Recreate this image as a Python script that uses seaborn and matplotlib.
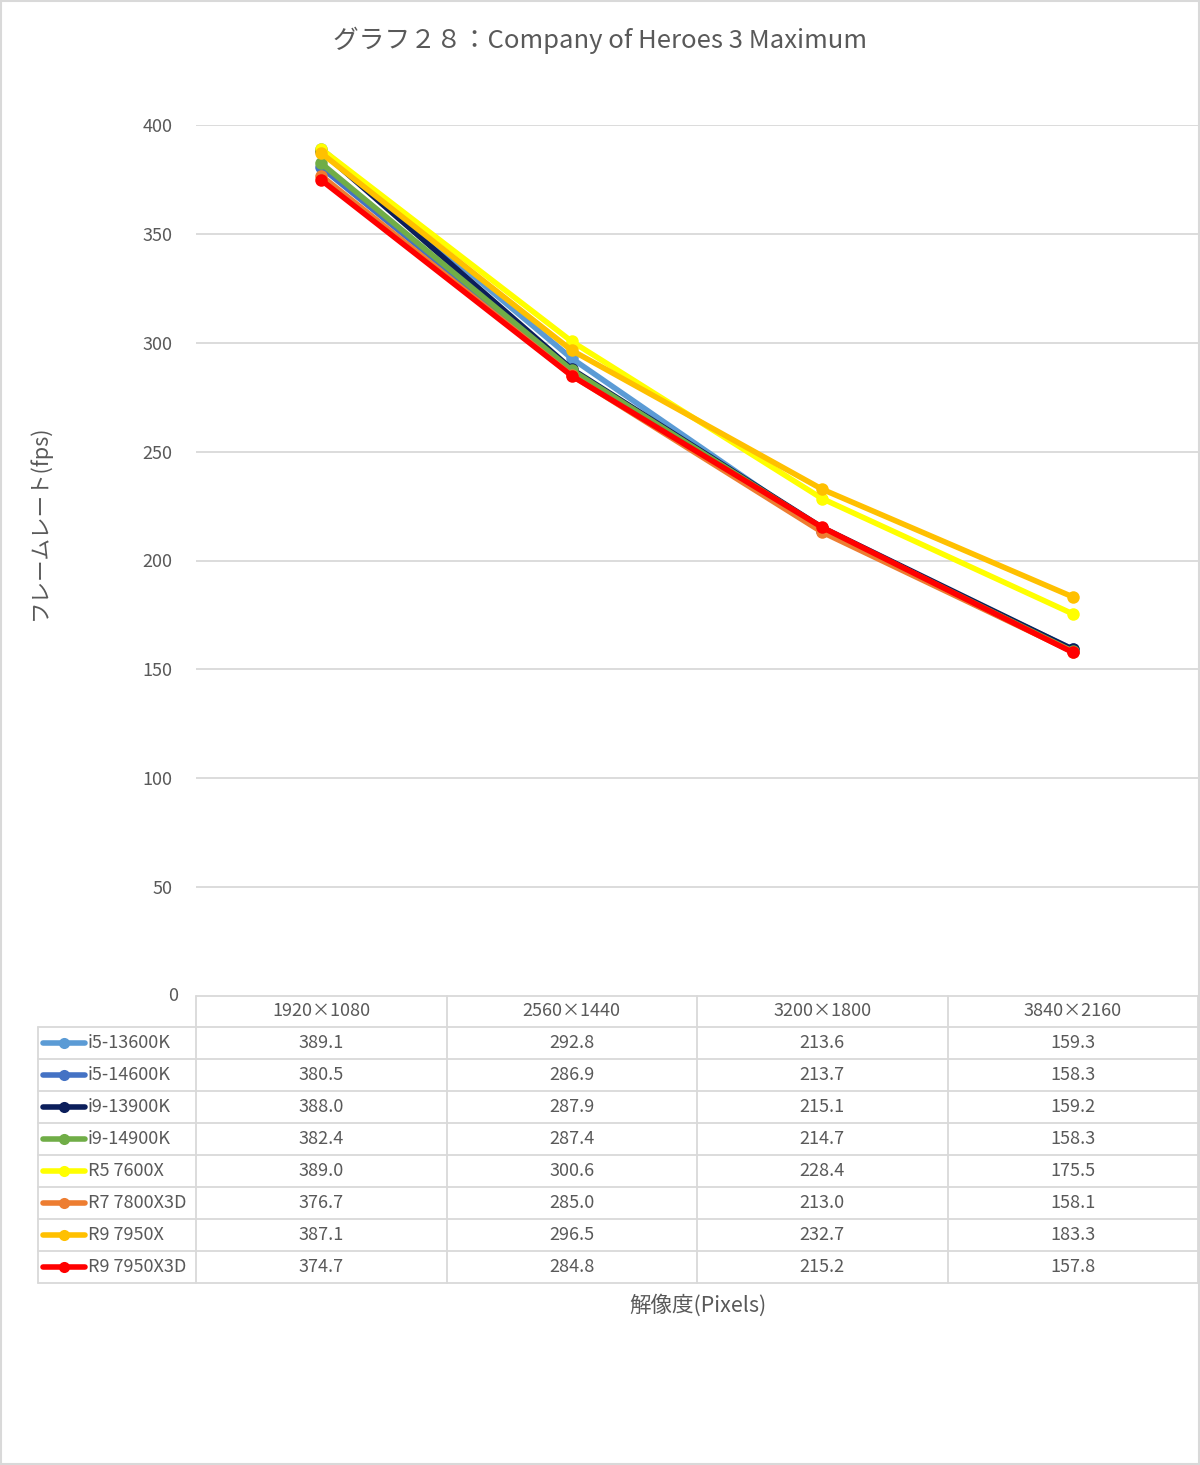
import pandas as pd
import matplotlib
matplotlib.use("Agg")
import matplotlib.pyplot as plt
import matplotlib.transforms as mtransforms
from matplotlib.patches import Rectangle
import seaborn as sns

resolutions = ["1920×1080", "2560×1440", "3200×1800", "3840×2160"]
cpus = ["i5-13600K", "i5-14600K", "i9-13900K", "i9-14900K",
        "R5 7600X", "R7 7800X3D", "R9 7950X", "R9 7950X3D"]
i5_13600k = [389.1, 292.8, 213.6, 159.3]
i5_14600k = [380.5, 286.9, 213.7, 158.3]
i9_13900k = [388.0, 287.9, 215.1, 159.2]
i9_14900k = [382.4, 287.4, 214.7, 158.3]
r5_7600x = [389.0, 300.6, 228.4, 175.5]
r7_7800x3d = [376.7, 285.0, 213.0, 158.1]
r9_7950x = [387.1, 296.5, 232.7, 183.3]
r9_7950x3d = [374.7, 284.8, 215.2, 157.8]
colors = ["#5B9BD5", "#4472C4", "#0B1E5B", "#70AD47",
          "#FFFF00", "#ED7D31", "#FFC000", "#FF0000"]

series = [i5_13600k, i5_14600k, i9_13900k, i9_14900k,
          r5_7600x, r7_7800x3d, r9_7950x, r9_7950x3d]
rows = []
for cpu, vals in zip(cpus, series):
    for i, v in enumerate(vals):
        rows.append({"cpu": cpu, "pos": i, "fps": v})
df = pd.DataFrame(rows)

sns.set_style("white")
plt.rcParams['font.family'] = ['Noto Sans CJK JP', 'DejaVu Sans']
txt = "#595959"
grid = "#D9D9D9"
fs = 13

W, H = 1200, 1465
fig = plt.figure(figsize=(W / 100, H / 100), dpi=100)
left, right, top, bottom = 196, 1198, 125, 996
ax = fig.add_axes([left / W, 1 - bottom / H, (right - left) / W, (bottom - top) / H])
ov = fig.add_axes([0, 0, 1, 1], zorder=-1)
ov.set_xlim(0, W)
ov.set_ylim(H, 0)
ov.axis("off")

sns.lineplot(data=df, x="pos", y="fps", hue="cpu", hue_order=cpus,
             palette=colors, marker="o", markersize=9, markeredgewidth=0,
             linewidth=4, legend=False, sort=False, ax=ax)
ax.set_xlim(-0.5, 3.5)
ax.set_ylim(0, 400)
ax.set_yticks(range(50, 401, 50))
for y in range(50, 401, 50):
    ax.axhline(y, color=grid, lw=1.3, zorder=0)
ax.set_xticks([])
ax.set_xlabel("")
ax.set_ylabel("")
ax.tick_params(axis="y", length=0, labelsize=fs, labelcolor=txt, pad=17)
for s in ax.spines.values():
    s.set_visible(False)
ax.patch.set_alpha(0)
ov.text(178, bottom, "0", ha="right", va="center", fontsize=fs, color=txt)

# title and axis labels
ov.text(600, 40, "グラフ２８：Company of Heroes 3 Maximum", ha="center", va="center",
        fontsize=18.5, color=txt)
ov.text(40, 522, "フレームレート(fps)", ha="center", va="center", rotation=90,
        fontsize=15.5, color=txt)
ov.text(698, 1305, "解像度(Pixels)", ha="center", va="center", fontsize=15.5, color=txt)

# data table below the plot
bt = mtransforms.blended_transform_factory(ax.transData, ov.transData)
hdr_top, row0, rh = 996, 1027, 32
col_edges = [-0.5, 0.5, 1.5, 2.5, 3.5]
tab_bottom = row0 + rh * len(cpus)
ov.plot([left, right], [hdr_top, hdr_top], color=grid, lw=1.3)
for k in range(len(cpus) + 1):
    y = row0 + k * rh
    ov.plot([38, right], [y, y], color=grid, lw=1.3)
ov.plot([38, 38], [row0, tab_bottom], color=grid, lw=1.3)
for e in col_edges:
    ax.plot([e, e], [hdr_top, tab_bottom], color=grid, lw=1.3,
            transform=bt, clip_on=False)
for i, r in enumerate(resolutions):
    ov.text(i, (hdr_top + row0) / 2, r, transform=bt, ha="center", va="center",
            fontsize=fs, color=txt)
for k, (cpu, vals, c) in enumerate(zip(cpus, series, colors)):
    yc = row0 + k * rh + rh / 2
    ov.plot([43, 85], [yc, yc], color=c, lw=4, solid_capstyle="round")
    ov.plot([64], [yc], "o", color=c, markersize=8, markeredgewidth=0)
    ov.text(88, yc, cpu, ha="left", va="center", fontsize=fs, color=txt)
    for i, v in enumerate(vals):
        ov.text(i, yc, f"{v:.1f}", transform=bt, ha="center", va="center",
                fontsize=fs, color=txt)

ov.add_patch(Rectangle((1, 1), W - 2, H - 2, fill=False, edgecolor=grid, lw=1.5))

fig.savefig("out.png", dpi=100)
